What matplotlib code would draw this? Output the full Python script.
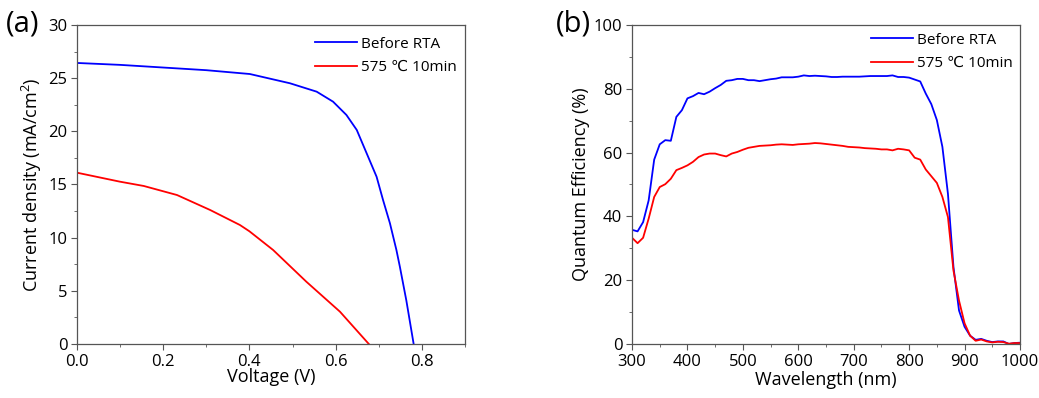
import matplotlib
matplotlib.use('Agg')
import matplotlib.pyplot as plt
from matplotlib.ticker import MultipleLocator
import numpy as np

plt.rcParams['font.family'] = ['Open Sans', 'DejaVu Sans']
plt.rcParams['mathtext.fontset'] = 'custom'
plt.rcParams['mathtext.rm'] = 'Open Sans'

# J-V curves
v_before = [0.0, 0.1, 0.2, 0.3, 0.401, 0.494, 0.556, 0.594, 0.625, 0.649, 0.672,
            0.695, 0.710, 0.726, 0.741, 0.749, 0.764, 0.781]
j_before = [26.43, 26.25, 26.0, 25.75, 25.39, 24.52, 23.73, 22.79, 21.54, 20.13, 17.93,
            15.73, 13.54, 11.35, 8.84, 7.27, 4.1, 0.0]
v_rta = [0.0, 0.099, 0.155, 0.232, 0.309, 0.378, 0.4, 0.455, 0.532, 0.610, 0.677]
j_rta = [16.11, 15.27, 14.86, 14.01, 12.60, 11.19, 10.6, 8.84, 5.86, 3.04, 0.0]

# quantum efficiency, 300-1000 nm every 10 nm
wl = list(range(300, 1001, 10))
qe_before = [35.8, 35.3, 38.2, 45.0, 57.8, 62.6, 63.9, 63.7, 71.2, 73.3,
             77.0, 77.7, 78.7, 78.3, 79.1, 80.2, 81.2, 82.5, 82.7, 83.1,
             83.1, 82.7, 82.7, 82.4, 82.7, 83.0, 83.2, 83.6, 83.6, 83.6,
             83.8, 84.2, 84.0, 84.1, 84.0, 83.9, 83.7, 83.7, 83.8, 83.8,
             83.8, 83.8, 83.9, 84.0, 84.0, 84.0, 84.0, 84.2, 83.7, 83.7,
             83.5, 82.9, 82.3, 78.5, 75.2, 70.2, 61.8, 47.1, 24.1, 10.5,
             5.4, 2.6, 1.3, 1.6, 1.0, 0.6, 0.8, 0.8, 0.0, 0.3, 0.4]
qe_rta = [33.3, 31.6, 33.3, 39.3, 46.1, 49.2, 50.1, 51.8, 54.5, 55.2,
          56.0, 57.1, 58.6, 59.4, 59.7, 59.7, 59.2, 58.8, 59.7, 60.2,
          60.9, 61.5, 61.8, 62.1, 62.2, 62.3, 62.5, 62.6, 62.5, 62.4,
          62.6, 62.7, 62.8, 63.0, 62.9, 62.7, 62.5, 62.3, 62.1, 61.8,
          61.7, 61.6, 61.4, 61.3, 61.2, 61.0, 61.0, 60.7, 61.2, 61.0,
          60.7, 58.4, 57.8, 54.7, 52.6, 50.5, 46.1, 39.8, 23.0, 13.6,
          6.5, 2.6, 1.0, 1.4, 0.8, 0.5, 0.7, 0.6, 0.1, 0.3, 0.3]

labels = ['Before RTA', '575 ℃ 10min']

fig = plt.figure(figsize=(10.39, 3.98), dpi=100)
ax1 = fig.add_axes([0.0741, 0.1357, 0.3734, 0.8015])
ax2 = fig.add_axes([0.6083, 0.1357, 0.3734, 0.8015])

def style(ax):
    for s in ax.spines.values():
        s.set_color('#555555')
        s.set_linewidth(0.9)
    ax.tick_params(which='both', direction='out', color='#555555', top=False, right=False,
                   labelsize=12, pad=3)
    ax.tick_params(which='major', length=4)
    ax.tick_params(which='minor', length=2.5)

ax1.plot(v_before, j_before, color='#0000ff', lw=1.3, label=labels[0])
ax1.plot(v_rta, j_rta, color='#ff0000', lw=1.3, label=labels[1])
ax1.set_xlim(0, 0.9)
ax1.set_ylim(0, 30)
ax1.xaxis.set_major_locator(MultipleLocator(0.2))
ax1.xaxis.set_minor_locator(MultipleLocator(0.1))
ax1.yaxis.set_major_locator(MultipleLocator(5))
ax1.yaxis.set_minor_locator(MultipleLocator(2.5))
ax1.set_xlabel('Voltage (V)', fontsize=13, labelpad=-1)
ax1.set_ylabel('Current density (mA/cm$^2$)', fontsize=13, labelpad=3)
style(ax1)
ax1.legend(loc='upper right', frameon=False, fontsize=11, handlelength=2.75,
           handletextpad=0.25, borderaxespad=0.15, labelspacing=0.55,
           bbox_to_anchor=(1.0, 0.99))
fig.text(0.006, 0.94, '(a)', fontsize=21, va='center')

ax2.plot(wl, qe_before, color='#0000ff', lw=1.3, label=labels[0])
ax2.plot(wl, qe_rta, color='#ff0000', lw=1.3, label=labels[1])
ax2.set_xlim(300, 1000)
ax2.set_ylim(0, 100)
ax2.xaxis.set_major_locator(MultipleLocator(100))
ax2.xaxis.set_minor_locator(MultipleLocator(50))
ax2.yaxis.set_major_locator(MultipleLocator(20))
ax2.yaxis.set_minor_locator(MultipleLocator(10))
ax2.set_xlabel('Wavelength (nm)', fontsize=13, labelpad=1)
ax2.set_ylabel('Quantum Efficiency (%)', fontsize=13, labelpad=3)
style(ax2)
ax2.legend(loc='upper right', frameon=False, fontsize=11, handlelength=2.75,
           handletextpad=0.25, borderaxespad=0.1, labelspacing=0.55)
fig.text(0.535, 0.94, '(b)', fontsize=21, va='center')

fig.savefig('out.png', dpi=100)
